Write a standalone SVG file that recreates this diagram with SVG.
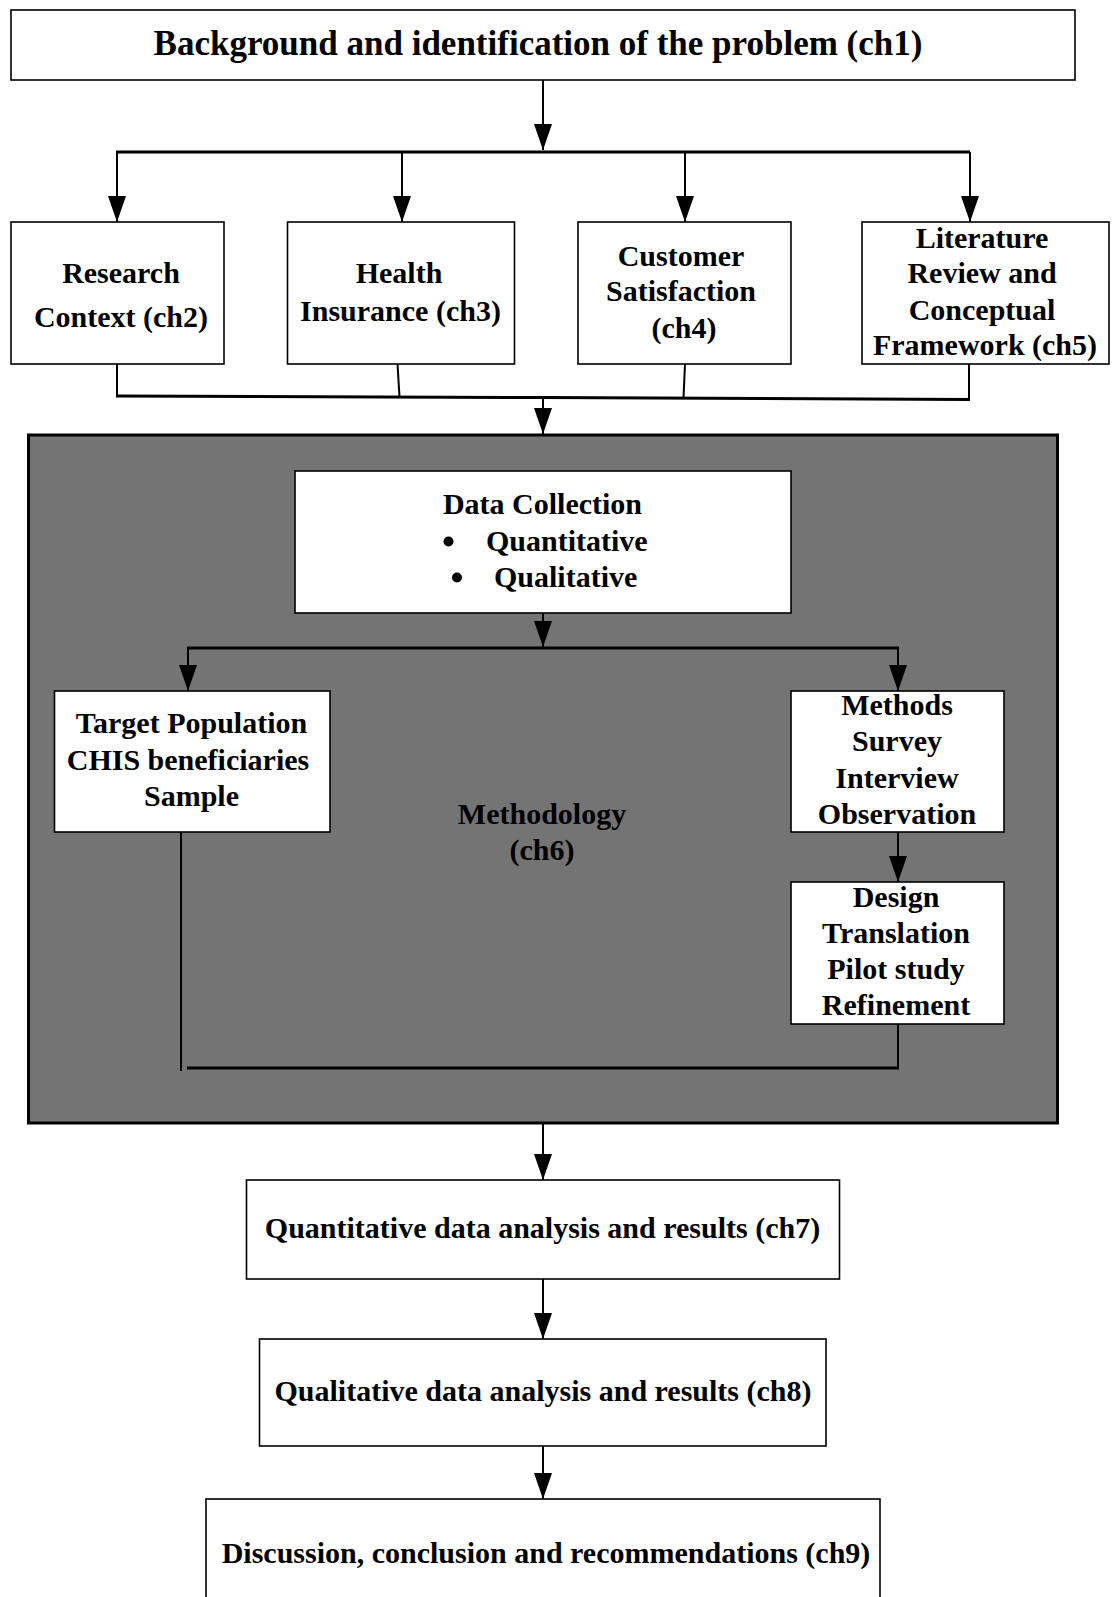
<svg xmlns="http://www.w3.org/2000/svg" width="1112" height="1597" viewBox="0 0 1112 1597">
  <style>
    .box { fill: #ffffff; stroke: #000000; stroke-width: 1.6; }
    .panel { fill: #747474; stroke: #000000; stroke-width: 3; }
    .t { font-family: "Liberation Serif", "Times New Roman", serif; font-weight: bold; font-size: 30px; fill: #000000; text-anchor: middle; }
    .title { font-size: 35px; }
    .lft { text-anchor: start; }
    .dot { fill: #000000; }
    .line { fill: none; stroke: #000000; stroke-width: 2; }
    .bar { fill: none; stroke: #000000; stroke-width: 3; }
    .arrow { fill: none; stroke: #000000; stroke-width: 2; marker-end: url(#head); }
  </style>
  <defs>
    <marker id="head" markerUnits="userSpaceOnUse" viewBox="0 0 26 18" refX="26" refY="9" markerWidth="26" markerHeight="18" orient="auto">
      <path d="M0,0 L26,9 L0,18 z" fill="#000000"/>
    </marker>
  </defs>

  <rect width="1112" height="1597" fill="#ffffff"/>

  <!-- methodology panel (ch6) -->
  <g id="methodology">
    <rect class="panel" x="28.5" y="435" width="1029" height="688"/>
    <text class="t" x="542" y="823.5">Methodology</text>
    <text class="t" x="542" y="859.5">(ch6)</text>
  </g>

  <g id="connectors">
    <!-- ch1 to the four chapter boxes -->
    <line class="arrow" x1="543" y1="80" x2="543" y2="150"/>
    <line class="bar" x1="116" y1="152" x2="970" y2="152"/>
    <line class="arrow" x1="117" y1="152" x2="117" y2="222"/>
    <line class="arrow" x1="402" y1="152" x2="402" y2="222"/>
    <line class="arrow" x1="685" y1="152" x2="685" y2="222"/>
    <line class="arrow" x1="970" y1="152" x2="970" y2="222"/>
    <!-- merge into methodology -->
    <line class="line" x1="117" y1="364" x2="117" y2="396"/>
    <line class="line" x1="397.5" y1="364" x2="399.5" y2="397"/>
    <line class="line" x1="685" y1="364" x2="683.5" y2="398"/>
    <line class="line" x1="969" y1="364" x2="969" y2="399"/>
    <polyline class="bar" points="116,396 543,397.5 970,399.5"/>
    <line class="arrow" x1="543" y1="397.5" x2="543" y2="434"/>
    <!-- data collection branches -->
    <line class="arrow" x1="543" y1="613" x2="543" y2="647"/>
    <line class="bar" x1="187" y1="648" x2="899" y2="648"/>
    <line class="arrow" x1="188" y1="648" x2="188" y2="691"/>
    <line class="arrow" x1="898" y1="648" x2="898" y2="691"/>
    <line class="arrow" x1="898" y1="832" x2="898" y2="882"/>
    <!-- return lines -->
    <line class="line" x1="181" y1="832" x2="181" y2="1071"/>
    <line class="line" x1="898" y1="1024" x2="898" y2="1068"/>
    <line class="bar" x1="187" y1="1068" x2="899" y2="1068"/>
    <!-- results chain -->
    <line class="arrow" x1="543" y1="1124" x2="543" y2="1180"/>
    <line class="arrow" x1="543" y1="1279" x2="543" y2="1339"/>
    <line class="arrow" x1="543" y1="1446" x2="543" y2="1499"/>
  </g>

  <g id="ch1">
    <rect class="box" x="11" y="10" width="1064" height="70"/>
    <text class="t title" x="538" y="55">Background and identification of the problem (ch1)</text>
  </g>

  <g id="ch2">
    <rect class="box" x="11" y="222" width="213" height="142"/>
    <text class="t" x="121" y="282.5">Research</text>
    <text class="t" x="121" y="326.5">Context (ch2)</text>
  </g>

  <g id="ch3">
    <rect class="box" x="287.5" y="222" width="227" height="142"/>
    <text class="t" x="399" y="283">Health</text>
    <text class="t" x="400.5" y="320.5">Insurance (ch3)</text>
  </g>

  <g id="ch4">
    <rect class="box" x="578" y="222" width="213" height="142"/>
    <text class="t" x="681" y="265.5">Customer</text>
    <text class="t" x="681" y="301">Satisfaction</text>
    <text class="t" x="684" y="338">(ch4)</text>
  </g>

  <g id="ch5">
    <rect class="box" x="862" y="222" width="247" height="142"/>
    <text class="t" x="982" y="247.5">Literature</text>
    <text class="t" x="982" y="283">Review and</text>
    <text class="t" x="982" y="319.5">Conceptual</text>
    <text class="t" x="985" y="355">Framework (ch5)</text>
  </g>

  <g id="data-collection">
    <rect class="box" x="295" y="471" width="496" height="142"/>
    <text class="t" x="542.5" y="514">Data Collection</text>
    <circle class="dot" cx="448.5" cy="541.5" r="5"/>
    <text class="t lft" x="486" y="551">Quantitative</text>
    <circle class="dot" cx="457" cy="577.5" r="5"/>
    <text class="t lft" x="494" y="586.5">Qualitative</text>
  </g>

  <g id="target-population">
    <rect class="box" x="54.5" y="691" width="275.5" height="141"/>
    <text class="t" x="191.5" y="733">Target Population</text>
    <text class="t" x="188" y="769.5">CHIS beneficiaries</text>
    <text class="t" x="191.5" y="806">Sample</text>
  </g>

  <g id="methods">
    <rect class="box" x="791" y="691" width="213" height="141"/>
    <text class="t" x="897" y="714.5">Methods</text>
    <text class="t" x="897" y="751">Survey</text>
    <text class="t" x="897" y="788">Interview</text>
    <text class="t" x="897" y="823.5">Observation</text>
  </g>

  <g id="design">
    <rect class="box" x="791" y="882" width="213" height="142"/>
    <text class="t" x="896" y="907">Design</text>
    <text class="t" x="896" y="943">Translation</text>
    <text class="t" x="896" y="979">Pilot study</text>
    <text class="t" x="896" y="1015">Refinement</text>
  </g>

  <g id="ch7">
    <rect class="box" x="246.5" y="1180" width="593" height="99"/>
    <text class="t" x="542.5" y="1238">Quantitative data analysis and results (ch7)</text>
  </g>

  <g id="ch8">
    <rect class="box" x="259.5" y="1339" width="566.5" height="107"/>
    <text class="t" x="543" y="1401">Qualitative data analysis and results (ch8)</text>
  </g>

  <g id="ch9">
    <rect class="box" x="206" y="1499" width="674" height="120"/>
    <text class="t" x="546" y="1563">Discussion, conclusion and recommendations (ch9)</text>
  </g>
</svg>
